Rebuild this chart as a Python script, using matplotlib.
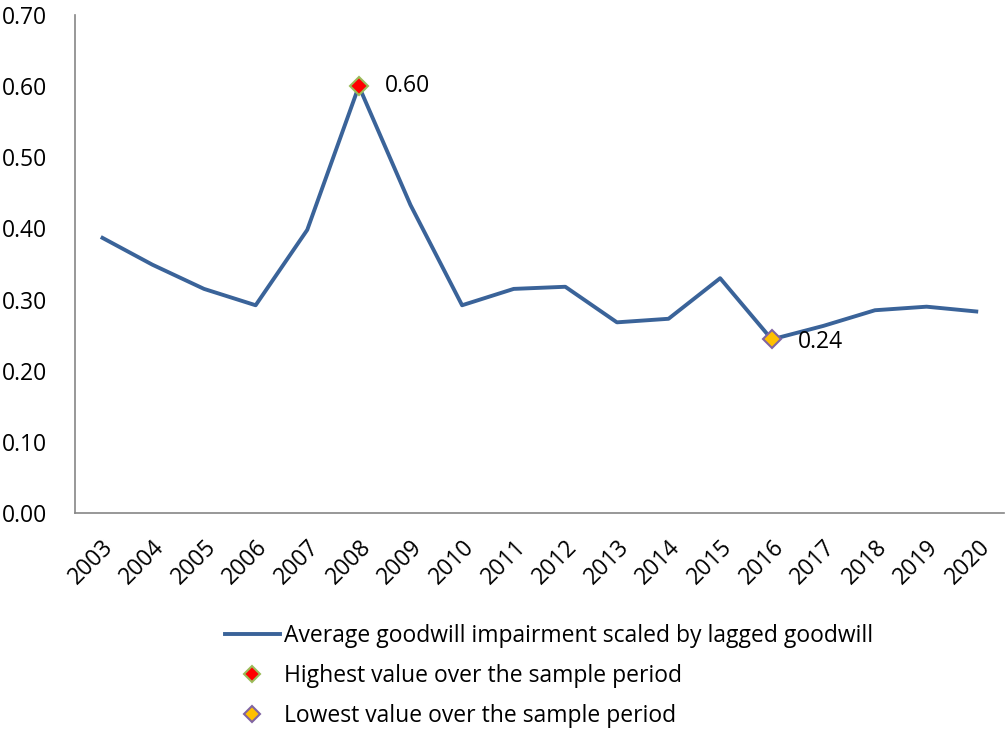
import numpy as np
import matplotlib.pyplot as plt
from matplotlib.lines import Line2D

plt.rcParams['font.family'] = ['Open Sans', 'DejaVu Sans']

# data
years = ['2003', '2004', '2005', '2006', '2007', '2008', '2009', '2010', '2011',
         '2012', '2013', '2014', '2015', '2016', '2017', '2018', '2019', '2020']
impairment = [0.388, 0.349, 0.315, 0.292, 0.398, 0.600, 0.433, 0.292, 0.315,
              0.318, 0.268, 0.273, 0.330, 0.244, 0.263, 0.285, 0.290, 0.283]
yticks = [0.0, 0.1, 0.2, 0.3, 0.4, 0.5, 0.6, 0.7]

line_color = '#3A6399'
fs = 16.5
x = np.arange(len(years))
i_max = int(np.argmax(impairment))
i_min = int(np.argmin(impairment))

fig = plt.figure(figsize=(10.05, 7.31), dpi=100)
ax = fig.add_axes([75 / 1005, (731 - 513) / 731, 929 / 1005, 498 / 731])

ax.plot(x, impairment, color=line_color, linewidth=2.8, solid_capstyle='butt')
ax.plot(x[i_max], impairment[i_max], marker='D', markersize=9, color='red',
        markeredgecolor='#9BBB59', markeredgewidth=1.5, linestyle='none')
ax.plot(x[i_min], impairment[i_min], marker='D', markersize=9, color='#FFC000',
        markeredgecolor='#8064A2', markeredgewidth=1.5, linestyle='none')

ax.annotate(f'{impairment[i_max]:.2f}', (x[i_max], impairment[i_max]),
            xytext=(19, 0), textcoords='offset points', va='center', fontsize=fs)
ax.annotate(f'{impairment[i_min]:.2f}', (x[i_min], impairment[i_min]),
            xytext=(19, -2), textcoords='offset points', va='center', fontsize=fs)

ax.set_xlim(-0.5, len(years) - 0.5)
ax.set_ylim(0, 0.7)
ax.set_yticks(yticks)
ax.set_yticklabels([f'{v:.2f}' for v in yticks], fontsize=fs)
ax.set_xticks(x)
ax.set_xticklabels(years, rotation=45, ha='right', va='top', fontsize=fs,
                   rotation_mode='anchor')
ax.tick_params(length=0)
ax.tick_params(axis='x', pad=16)
ax.tick_params(axis='y', pad=20)
for side in ['top', 'right']:
    ax.spines[side].set_visible(False)
for side in ['left', 'bottom']:
    ax.spines[side].set_color('#868686')
    ax.spines[side].set_linewidth(1.2)

handles = [
    Line2D([], [], color=line_color, linewidth=2.8),
    Line2D([], [], marker='D', markersize=8, color='red', markeredgecolor='#9BBB59',
           markeredgewidth=1.5, linestyle='none'),
    Line2D([], [], marker='D', markersize=8, color='#FFC000', markeredgecolor='#8064A2',
           markeredgewidth=1.5, linestyle='none'),
]
labels = ['Average goodwill impairment scaled by lagged goodwill',
          'Highest value over the sample period',
          'Lowest value over the sample period']
fig.legend(handles, labels, loc='center', bbox_to_anchor=(549 / 1005, 1 - 676 / 731),
           frameon=False, fontsize=fs, handlelength=2.4, handletextpad=0.2,
           labelspacing=0.68, borderpad=0)

fig.savefig('out.png', dpi=100)
